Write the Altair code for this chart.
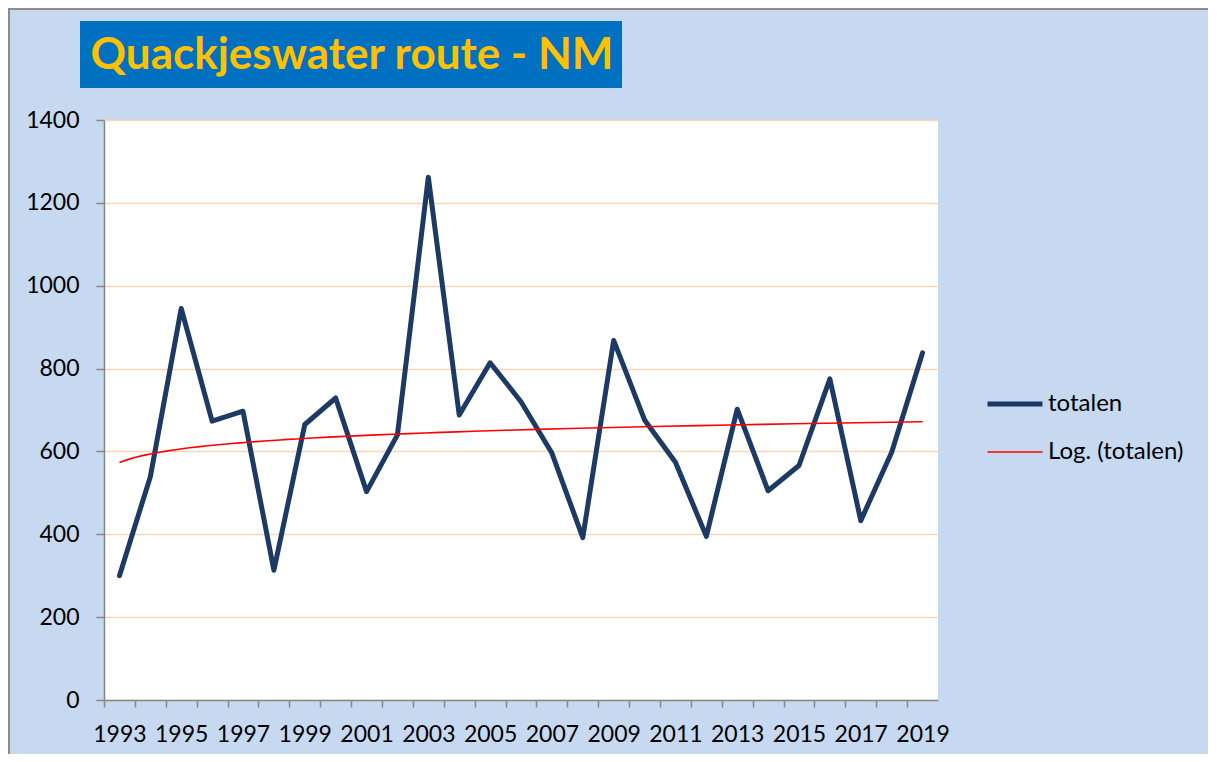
import altair as alt
import pandas as pd

years = list(range(1993, 2020))
totalen = [300, 539, 945, 673, 697, 313, 665, 729, 503, 640, 1262, 688, 814, 720, 596,
           392, 868, 676, 574, 395, 702, 505, 566, 775, 433, 598, 838]
series_names = ["totalen", "Log. (totalen)"]
series_colors = ["#1C3A63", "#FF0000"]
series_widths = [5, 1.6]
title_text = ["Quackjeswater route - NM"]
y_ticks = [0, 200, 400, 600, 800, 1000, 1200, 1400]
x_tick_years = list(range(1993, 2021))

df = pd.DataFrame({"year": years, "totalen": totalen, "series": "totalen"})

FONT = "Lato"
W, H = 834, 580
half = W / 27 / 2

legend = alt.Legend(
    title=None, orient="none", legendX=881, legendY=272, symbolType="stroke",
    symbolSize=3025, clipHeight=24, rowPadding=24, labelOffset=3, padding=0,
    labelFont=FONT, labelFontSize=24, labelColor="#000000", labelLimit=300,
)

x_enc = alt.X(
    "year:Q",
    scale=alt.Scale(domain=[1992.5, 2019.5], nice=False, zero=False),
    axis=alt.Axis(
        title=None, values=x_tick_years, tickOffset=-half, labelOffset=half,
        labelExpr="(datum.value % 2 == 1 && datum.value < 2020) ? datum.value : ''",
        labelOverlap=False, tickSize=7, labelPadding=16, grid=False,
    ),
)
y_enc = alt.Y(
    "totalen:Q",
    scale=alt.Scale(domain=[0, 1400], nice=False),
    axis=alt.Axis(title=None, values=y_ticks, format="d", tickSize=8, labelPadding=17, grid=True),
)
color_enc = alt.Color("series:N", scale=alt.Scale(domain=series_names, range=series_colors), legend=legend)
sw_enc = alt.StrokeWidth("series:N", scale=alt.Scale(domain=series_names, range=series_widths), legend=legend)

base = alt.Chart(df)

main_line = base.mark_line(strokeJoin="round", strokeCap="round").encode(
    x=x_enc, y=y_enc, color=color_enc, strokeWidth=sw_enc
)

trend = (
    base.transform_calculate(idx="datum.year - 1992")
    .transform_regression("idx", "totalen", method="log", extent=[1, 27])
    .transform_calculate(year="datum.idx + 1992", series="'Log. (totalen)'")
    .mark_line()
    .encode(x=x_enc, y=y_enc, color=color_enc, strokeWidth=sw_enc)
)

tdf = pd.DataFrame({"t": title_text})
title_box = alt.Chart(tdf).mark_rect(color="#0070C0").encode(
    x=alt.value(-24), x2=alt.value(518), y=alt.value(-99), y2=alt.value(-32)
)
title_txt = alt.Chart(tdf).mark_text(
    font=FONT, fontSize=44, fontWeight="bold", color="#FFC000", align="center", baseline="middle"
).encode(text="t:N", x=alt.value(248), y=alt.value(-64))

border_top = alt.Chart(tdf).mark_rule(color="#8C8C8C", strokeWidth=2).encode(
    x=alt.value(-96), x2=alt.value(1104), y=alt.value(-111)
)
border_left = alt.Chart(tdf).mark_rule(color="#8C8C8C", strokeWidth=2).encode(
    x=alt.value(-95), y=alt.value(-112), y2=alt.value(634)
)

chart = (
    alt.layer(border_top, border_left, title_box, title_txt, main_line, trend)
    .properties(
        width=W, height=H,
        padding={"left": 96, "top": 112, "right": 270, "bottom": 54},
        autosize=alt.AutoSizeParams(type="none"),
        background="#C6D9F0",
    )
    .configure_view(fill="#FFFFFF", stroke=None)
    .configure_axis(
        domainColor="#868686", domainWidth=1.5, tickColor="#868686", tickWidth=1.5,
        gridColor="#FBD5B5", gridWidth=1.5, labelFont=FONT, labelFontSize=23,
        labelColor="#000000",
    )
)

chart.save("out.html", embed_options={"renderer": "svg", "actions": False})
